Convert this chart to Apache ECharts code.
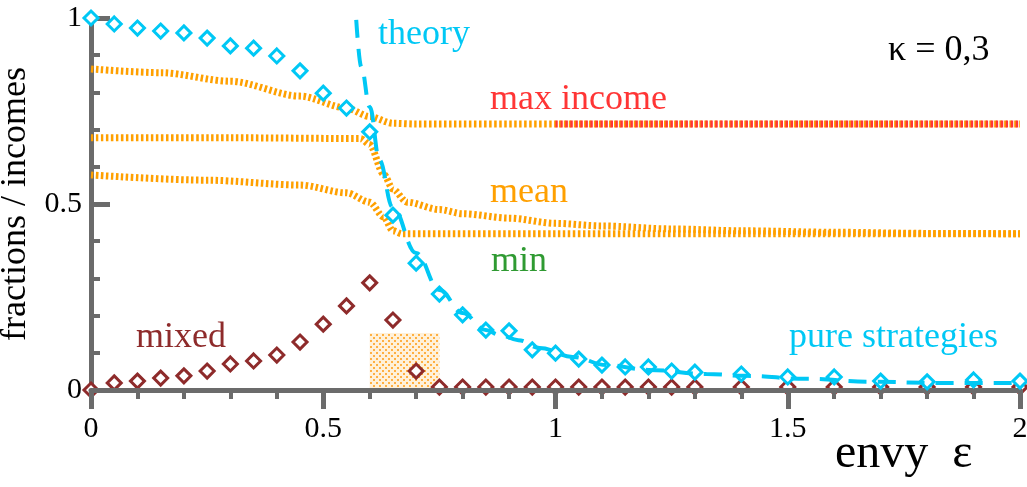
<!DOCTYPE html>
<html>
<head>
<meta charset="utf-8">
<script src="https://cdn.jsdelivr.net/npm/echarts@6/dist/echarts.min.js"></script>
<style>
  html, body { margin: 0; padding: 0; background: #fff; }
  #chart { width: 1027px; height: 487px; }
</style>
</head>
<body>
<div id="chart"></div>
<script>
// envy values where the simulations were run
const envyX = [0, 0.05, 0.1, 0.15, 0.2, 0.25, 0.3, 0.35, 0.4, 0.45, 0.5, 0.55, 0.6, 0.65, 0.7,
  0.75, 0.8, 0.85, 0.9, 0.95, 1, 1.05, 1.1, 1.15, 1.2, 1.25, 1.3, 1.4, 1.5, 1.6, 1.7, 1.8, 1.9, 2];
// fraction of pure strategies
const pureY = [1, 0.984, 0.973, 0.965, 0.96, 0.946, 0.925, 0.919, 0.898, 0.858, 0.798, 0.758, 0.694, 0.47, 0.341,
  0.258, 0.202, 0.161, 0.159, 0.108, 0.099, 0.083, 0.067, 0.062, 0.062, 0.051, 0.048, 0.043, 0.035, 0.035, 0.024, 0.022, 0.027, 0.024];
// fraction of mixed strategies
const mixedY = [0, 0.019, 0.024, 0.032, 0.038, 0.051, 0.07, 0.078, 0.094, 0.129, 0.177, 0.226, 0.288, 0.188, 0.051,
  0.008, 0.008, 0.008, 0.008, 0.008, 0.008, 0.008, 0.008, 0.008, 0.008, 0.008, 0.008, 0.008, 0.008, 0.008, 0.008, 0.008, 0.008, 0.008];

// theory curve
const theoryX = [0.571, 0.582, 0.6, 0.621, 0.649, 0.7, 0.75, 0.8, 0.85, 0.88, 0.92, 0.966, 1.037, 1.11, 1.2, 1.325, 1.41, 1.54, 1.68, 1.83, 2];
const theoryY = [0.995, 0.868, 0.761, 0.618, 0.492, 0.368, 0.269, 0.207, 0.161, 0.148, 0.134, 0.113, 0.089, 0.067, 0.054, 0.043, 0.038, 0.03, 0.022, 0.019, 0.019];

// incomes
const maxIncX = [0, 0.15, 0.3, 0.45, 0.55, 0.6, 0.65, 0.7, 1, 1.5, 2];
const maxIncY = [0.863, 0.853, 0.83, 0.79, 0.758, 0.735, 0.717, 0.715, 0.715, 0.715, 0.715];
const meanIncX = [0, 0.3, 0.58, 0.6, 0.63, 0.65, 0.68, 0.75, 0.8, 0.9, 1, 1.1, 1.25, 1.4, 1.6, 1.8, 2];
const meanIncY = [0.678, 0.678, 0.676, 0.66, 0.58, 0.54, 0.505, 0.485, 0.474, 0.462, 0.448, 0.441, 0.433, 0.428, 0.424, 0.421, 0.42];
const minIncX = [0, 0.25, 0.45, 0.55, 0.6, 0.63, 0.65, 0.67, 1, 1.5, 2];
const minIncY = [0.578, 0.564, 0.551, 0.53, 0.505, 0.465, 0.428, 0.42, 0.42, 0.42, 0.42];
const redMaxX = [1, 2];
const redMaxY = [0.715, 0.715];

// shaded box
const shadeX = [0.6, 0.75];
const shadeTop = 0.153;

const FONT = 'Liberation Serif';
const cyan = '#00c8f5';
const brown = '#8e2b2b';
const orange = '#ffa000';
const red = '#ff3535';
const green = '#2f9a32';
const axisGray = '#6b6b6b';

function zip(xs, ys) {
  return xs.map((x, i) => [x, ys[i]]);
}

// dotted fill for the shaded box
function dotPattern() {
  const c = document.createElement('canvas');
  c.width = 6;
  c.height = 6;
  const ctx = c.getContext('2d');
  ctx.fillStyle = 'rgba(255,215,150,0.35)';
  ctx.fillRect(0, 0, 6, 6);
  ctx.fillStyle = 'rgba(255,165,40,0.85)';
  ctx.fillRect(1, 1, 2, 2);
  ctx.fillRect(4, 4, 2, 2);
  return c;
}

function incomeLine(name, xs, ys, color) {
  return {
    name: name,
    type: 'line',
    data: zip(xs, ys),
    smooth: 0.3,
    smoothMonotone: 'x',
    showSymbol: false,
    symbol: 'none',
    lineStyle: { color: color, width: 7, type: [2.5, 2.5] },
    z: 2
  };
}

const chart = echarts.init(document.getElementById('chart'), null, { renderer: 'canvas' });

const option = {
  animation: false,
  backgroundColor: '#fff',
  grid: { left: 91, right: 7, top: 18, bottom: 97, containLabel: false, outerBoundsMode: 'none' },
  xAxis: {
    type: 'value',
    min: 0,
    max: 2,
    interval: 0.5,
    z: 3,
    axisLine: { lineStyle: { color: axisGray, width: 5 } },
    axisTick: { length: 19, lineStyle: { color: axisGray, width: 5 } },
    minorTick: { show: true, splitNumber: 5, length: 9, lineStyle: { color: axisGray, width: 4 } },
    splitLine: { show: false },
    axisLabel: { color: '#000', fontFamily: FONT, fontSize: 30, margin: 24 }
  },
  yAxis: {
    type: 'value',
    min: 0,
    max: 1,
    interval: 0.5,
    name: 'fractions / incomes',
    nameLocation: 'middle',
    nameGap: 46,
    nameTextStyle: { color: '#000', fontFamily: FONT, fontSize: 36 },
    axisLine: { lineStyle: { color: axisGray, width: 5 } },
    axisTick: { inside: true, length: 19, lineStyle: { color: axisGray, width: 5 } },
    minorTick: { show: true, splitNumber: 5, length: 9, lineStyle: { color: axisGray, width: 4 } },
    splitLine: { show: false },
    axisLabel: { color: '#000', fontFamily: FONT, fontSize: 30, margin: 9 }
  },
  series: [
    {
      name: 'shade',
      type: 'line',
      data: [],
      markArea: {
        silent: true,
        itemStyle: { color: { image: dotPattern(), repeat: 'repeat' } },
        data: [[{ coord: [shadeX[0], 0] }, { coord: [shadeX[1], shadeTop] }]]
      },
      z: 1
    },
    incomeLine('max income', maxIncX, maxIncY, orange),
    incomeLine('mean', meanIncX, meanIncY, orange),
    incomeLine('min', minIncX, minIncY, orange),
    incomeLine('max income red', redMaxX, redMaxY, red),
    {
      name: 'mixed',
      type: 'scatter',
      data: zip(envyX, mixedY),
      symbol: 'diamond',
      symbolSize: 14,
      clip: false,
      itemStyle: { color: '#fff', borderColor: brown, borderWidth: 3, opacity: 1 },
      z: 2
    },
    {
      name: 'pure strategies',
      type: 'scatter',
      data: zip(envyX, pureY),
      symbol: 'diamond',
      symbolSize: 14,
      clip: false,
      itemStyle: { color: '#fff', borderColor: cyan, borderWidth: 3, opacity: 1 },
      z: 4
    },
    {
      name: 'theory',
      type: 'line',
      data: zip(theoryX, theoryY),
      smooth: 0.4,
      smoothMonotone: 'x',
      showSymbol: false,
      symbol: 'none',
      lineStyle: { color: cyan, width: 4, type: [18, 11] },
      z: 5
    }
  ],
  graphic: [
    { type: 'text', x: 378, y: 35, style: { text: 'theory', font: '36px ' + FONT, fill: cyan, verticalAlign: 'middle' } },
    { type: 'text', x: 490, y: 100, style: { text: 'max income', font: '36px ' + FONT, fill: red, verticalAlign: 'middle' } },
    { type: 'text', x: 490, y: 193, style: { text: 'mean', font: '36px ' + FONT, fill: orange, verticalAlign: 'middle' } },
    { type: 'text', x: 491, y: 262, style: { text: 'min', font: '36px ' + FONT, fill: green, verticalAlign: 'middle' } },
    { type: 'text', x: 136, y: 338, style: { text: 'mixed', font: '36px ' + FONT, fill: brown, verticalAlign: 'middle' } },
    { type: 'text', x: 789, y: 338, style: { text: 'pure strategies', font: '36px ' + FONT, fill: cyan, verticalAlign: 'middle' } },
    { type: 'text', x: 888, y: 51, style: { text: 'κ = 0,3', font: '36px ' + FONT, fill: '#000', verticalAlign: 'middle' } },
    { type: 'text', x: 835, y: 454, style: { text: 'envy  ε', font: '48px ' + FONT, fill: '#000', verticalAlign: 'middle' } }
  ]
};

chart.setOption(option);
</script>
</body>
</html>
